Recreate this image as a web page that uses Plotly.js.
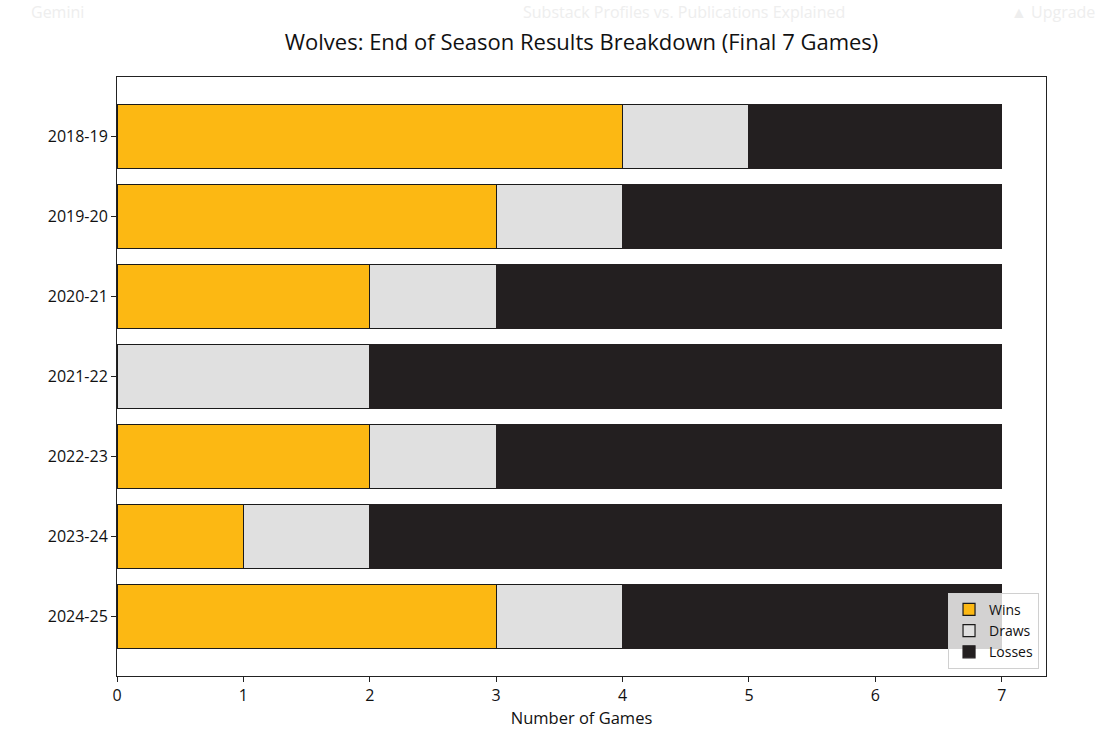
<!DOCTYPE html>
<html>
<head>
<meta charset="utf-8">
<script src="https://cdn.plot.ly/plotly-3.0.1.min.js"></script>
<style>
  html, body { margin: 0; padding: 0; background: #fff; }
  #myDiv { width: 1096px; height: 736px; }
</style>
</head>
<body>
<div id="myDiv"></div>
<script>
//  ======== DATA ========
var seasons = ['2018-19', '2019-20', '2020-21', '2021-22', '2022-23', '2023-24', '2024-25'];
var wins   = [4, 3, 2, 0, 2, 1, 3];
var draws  = [1, 1, 1, 2, 1, 1, 1];
var losses = [2, 3, 4, 5, 4, 5, 3];
var xTicks = [0, 1, 2, 3, 4, 5, 6, 7];

var FONT = 'Open Sans, sans-serif';

function barTrace(name, values, fill, edge) {
  return {
    type: 'bar',
    orientation: 'h',
    name: name,
    y: seasons,
    x: values,
    marker: {
      color: fill,
      line: {color: edge, width: 1.2}
    },
    hoverinfo: 'x+name'
  };
}

var plotData = [
  barTrace('Wins', wins, '#FCB813', '#1a1a1a'),
  barTrace('Draws', draws, '#E0E0E0', '#1a1a1a'),
  barTrace('Losses', losses, '#231F20', '#231F20')
];

//  ======== LAYOUT ========
// faint page text behind the chart (blurred browser UI in the screenshot)
function faint(text, x) {
  return {text: text, xref: 'paper', yref: 'paper', x: x, y: 1.1085,
          xanchor: 'left', yanchor: 'middle', showarrow: false,
          font: {size: 16, color: '#eeeeee'}};
}

var layout = {
  width: 1096,
  height: 736,
  barmode: 'stack',
  bargap: 0.2,
  margin: {l: 117, r: 50, t: 77, b: 60, pad: 0},
  paper_bgcolor: '#ffffff',
  plot_bgcolor: '#ffffff',
  font: {family: FONT, color: '#111111', size: 16},
  title: {
    text: 'Wolves: End of Season Results Breakdown (Final 7 Games)',
    font: {family: FONT, size: 22, color: '#111111'},
    x: 0.5306,
    xanchor: 'center',
    y: 0.942,
    yanchor: 'middle'
  },
  xaxis: {
    range: [0, 7.35],
    tickvals: xTicks,
    ticks: 'outside',
    ticklen: 5,
    tickcolor: '#222',
    showgrid: false,
    zeroline: false,
    showline: true,
    linecolor: '#222',
    linewidth: 1,
    mirror: true,
    tickfont: {size: 16},
    title: {text: 'Number of Games', font: {size: 16.5}, standoff: 6}
  },
  yaxis: {
    type: 'category',
    categoryorder: 'array',
    categoryarray: seasons,
    range: [6.74, -0.74],
    ticks: 'outside',
    ticklen: 5,
    tickcolor: '#222',
    showgrid: false,
    zeroline: false,
    showline: true,
    linecolor: '#222',
    linewidth: 1,
    mirror: true,
    tickfont: {size: 16}
  },
  legend: {
    x: 0.9925,
    y: 0.012,
    xanchor: 'right',
    yanchor: 'bottom',
    traceorder: 'normal',
    bgcolor: 'rgba(255,255,255,0.8)',
    bordercolor: '#d0d0d0',
    borderwidth: 1,
    font: {size: 14, color: '#111'},
    itemwidth: 30
  },
  annotations: [
    faint('Gemini', -0.095),
    faint('Substack Profiles vs. Publications Explained', 0.435),
    faint('\u25B2 Upgrade', 0.96)
  ]
};

var config = {displayModeBar: false, responsive: false};

Plotly.newPlot('myDiv', plotData, layout, config);
</script>
</body>
</html>
